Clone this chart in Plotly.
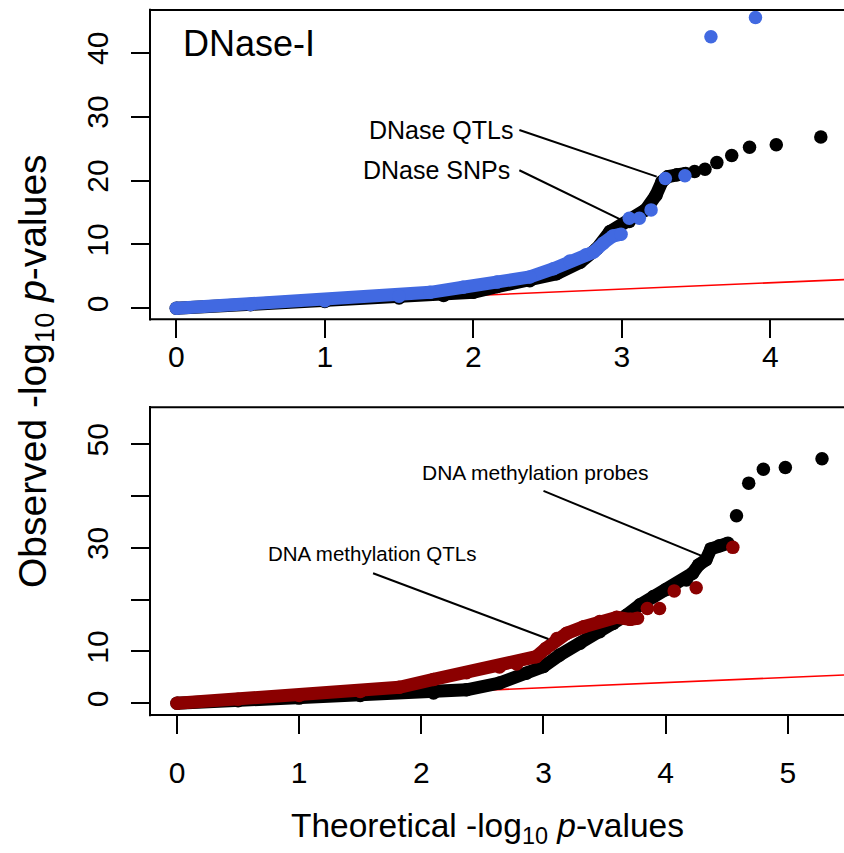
import plotly.graph_objects as go

# ---- DNase-I panel: Q-Q values (theoretical vs observed -log10 p) ----
dnase_snp_band_x = [0.0, 0.5, 1.0, 1.5, 1.8, 2.0, 2.16, 2.38, 2.56, 2.72, 2.83, 2.92,
                    3.05, 3.16, 3.23, 3.27, 3.31, 3.37, 3.43]
dnase_snp_band_y = [0.0, 0.55, 1.05, 1.6, 2.0, 2.5, 3.4, 4.3, 5.4, 7.2, 9.3, 12.0,
                    13.6, 15.4, 17.7, 19.8, 20.6, 20.9, 21.1]
dnase_snp_tail_x = [3.49, 3.56, 3.64, 3.74, 3.86, 4.04, 4.34]
dnase_snp_tail_y = [21.4, 21.75, 22.8, 23.9, 25.2, 25.6, 26.8]

dnase_qtl_band_x = [0.0, 0.5, 1.0, 1.5, 1.71, 1.93, 2.16, 2.38, 2.54, 2.65, 2.76, 2.81,
                    2.876, 2.94, 2.995]
dnase_qtl_band_y = [0.0, 0.6, 1.2, 1.9, 2.5, 3.3, 4.1, 4.9, 6.2, 7.4, 8.4, 8.8,
                    10.2, 11.3, 11.6]
dnase_qtl_tail_x = [3.05, 3.118, 3.197, 3.293, 3.425, 3.6, 3.9]
dnase_qtl_tail_y = [14.1, 14.1, 15.4, 20.3, 20.75, 42.5, 45.5]

# ---- DNA methylation panel ----
meth_probe_band_x = [0.0, 0.5, 1.0, 1.5, 2.1, 2.37, 2.64, 2.86, 3.0, 3.13, 3.3, 3.46,
                     3.57, 3.68, 3.79, 3.9, 4.0, 4.17, 4.22, 4.27, 4.33, 4.37, 4.44, 4.51]
meth_probe_band_y = [0.0, 0.5, 1.0, 1.5, 2.0, 2.6, 3.9, 5.8, 7.1, 9.3, 11.6, 13.8,
                     15.4, 17.0, 19.0, 20.6, 21.9, 23.8, 25.1, 26.7, 27.7, 29.8, 30.4, 30.9]
meth_probe_tail_x = [4.58, 4.68, 4.80, 4.98, 5.28]
meth_probe_tail_y = [36.2, 42.5, 45.2, 45.5, 47.2]

meth_qtl_band_x = [0.0, 0.5, 1.0, 1.5, 1.82, 2.1, 2.37, 2.64, 2.78, 2.94, 3.02, 3.11,
                   3.19, 3.33, 3.46, 3.6, 3.71, 3.77]
meth_qtl_band_y = [0.0, 0.8, 1.5, 2.3, 3.1, 4.6, 5.9, 7.0, 7.6, 9.0, 10.6, 12.5,
                   13.5, 14.8, 15.8, 16.6, 16.2, 16.4]
meth_qtl_tail_x = [3.85, 3.95, 4.07, 4.25, 4.55]
meth_qtl_tail_y = [18.3, 18.3, 21.7, 22.3, 30.1]

top_xticks = [0, 1, 2, 3, 4]
top_yticks = [0, 10, 20, 30, 40]
bot_xticks = [0, 1, 2, 3, 4, 5]
bot_yticks = [0, 10, 20, 30, 40, 50]
bot_yticktext = ["0", "10", "", "30", "", "50"]

top_xrange = [-0.177, 4.496]
top_yrange = [-1.72, 46.68]
bot_xrange = [-0.221, 5.46]
bot_yrange = [-2.26, 57.14]

BLACK = "black"
BLUE = "#4169E1"
DARKRED = "#8B0000"
FONT = "Liberation Sans, Arial, Helvetica, sans-serif"
MS = 13.5

W, H = 844, 853
fig = go.Figure()


def add_series(xa, ya, bx, by, tx, ty, color):
    fig.add_trace(go.Scatter(x=bx, y=by, xaxis=xa, yaxis=ya, mode="lines+markers",
                             line=dict(color=color, width=MS - 0.5),
                             marker=dict(color=color, size=MS),
                             cliponaxis=False, hoverinfo="skip"))
    fig.add_trace(go.Scatter(x=tx, y=ty, xaxis=xa, yaxis=ya, mode="markers",
                             marker=dict(color=color, size=MS),
                             cliponaxis=False, hoverinfo="skip"))


# identity reference line (y = x) from the origin, under the points
fig.add_trace(go.Scatter(x=[0, top_xrange[1]], y=[0, top_xrange[1]], xaxis="x", yaxis="y",
                         mode="lines", line=dict(color="red", width=1.6), hoverinfo="skip"))
fig.add_trace(go.Scatter(x=[0, bot_xrange[1]], y=[0, bot_xrange[1]], xaxis="x2", yaxis="y2",
                         mode="lines", line=dict(color="red", width=1.6), hoverinfo="skip"))

add_series("x", "y", dnase_snp_band_x, dnase_snp_band_y, dnase_snp_tail_x, dnase_snp_tail_y, BLACK)
add_series("x", "y", dnase_qtl_band_x, dnase_qtl_band_y, dnase_qtl_tail_x, dnase_qtl_tail_y, BLUE)
add_series("x2", "y2", meth_probe_band_x, meth_probe_band_y, meth_probe_tail_x, meth_probe_tail_y, BLACK)
add_series("x2", "y2", meth_qtl_band_x, meth_qtl_band_y, meth_qtl_tail_x, meth_qtl_tail_y, DARKRED)

tick_common = dict(ticks="outside", ticklen=18, tickwidth=2, tickcolor="black",
                   showgrid=False, zeroline=False, showline=False,
                   tickfont=dict(family=FONT, size=30, color="black"), fixedrange=True)

fig.update_layout(
    width=W, height=H, margin=dict(l=0, r=0, t=0, b=0),
    template="none", showlegend=False,
    paper_bgcolor="white", plot_bgcolor="white",
    font=dict(family=FONT, color="black"),
    xaxis=dict(domain=[150 / W, 1], range=top_xrange, anchor="y",
               tickvals=top_xticks, ticklabelstandoff=-7, **tick_common),
    yaxis=dict(domain=[1 - 319.3 / H, 1 - 10 / H], range=top_yrange, anchor="x",
               tickvals=top_yticks, tickangle=-90, ticklabelstandoff=11, **tick_common),
    xaxis2=dict(domain=[150 / W, 1], range=bot_xrange, anchor="y2",
                tickvals=bot_xticks, ticklabelstandoff=13, **tick_common),
    yaxis2=dict(domain=[1 - 715 / H, 1 - 407.3 / H], range=bot_yrange, anchor="x2",
                tickvals=bot_yticks, ticktext=bot_yticktext, tickangle=-90,
                ticklabelstandoff=11, **tick_common),
)

# open box (left, top, bottom) around each panel
shapes = []
for xr, yr in (("x domain", "y domain"), ("x2 domain", "y2 domain")):
    ln = dict(color="black", width=2)
    shapes.append(dict(type="line", xref=xr, yref=yr, x0=0, x1=0, y0=-0.004, y1=1.004, line=ln))
    shapes.append(dict(type="line", xref=xr, yref=yr, x0=0, x1=1.01, y0=1, y1=1, line=ln))
    shapes.append(dict(type="line", xref=xr, yref=yr, x0=0, x1=1.01, y0=0, y1=0, line=ln))

# leader lines from labels to points
leaders = [
    ("x", "y", 2.31, 27.9, 3.235, 20.6),
    ("x", "y", 2.31, 21.6, 3.0, 13.8),
    ("x2", "y2", 3.0, 41.0, 4.31, 28.3),
    ("x2", "y2", 1.605, 25.1, 3.04, 12.4),
]
for xr, yr, x0, y0, x1, y1 in leaders:
    shapes.append(dict(type="line", xref=xr, yref=yr, x0=x0, y0=y0, x1=x1, y1=y1,
                       line=dict(color="black", width=2)))
fig.update_layout(shapes=shapes)

ann = [
    dict(xref="x", yref="y", x=0.03, y=41.4, text="DNase-I", xanchor="left",
         yanchor="middle", font=dict(size=36)),
    dict(xref="x", yref="y", x=2.28, y=27.9, text="DNase QTLs", xanchor="right",
         yanchor="middle", font=dict(size=25)),
    dict(xref="x", yref="y", x=2.26, y=21.6, text="DNase SNPs", xanchor="right",
         yanchor="middle", font=dict(size=25)),
    dict(xref="x2", yref="y2", x=2.93, y=44.5, text="DNA methylation probes",
         xanchor="center", yanchor="middle", font=dict(size=21)),
    dict(xref="x2", yref="y2", x=1.60, y=29.0, text="DNA methylation QTLs",
         xanchor="center", yanchor="middle", font=dict(size=20.5)),
    dict(xref="paper", yref="paper", x=487 / W, y=1 - 828 / H,
         text="Theoretical -log<sub>10</sub> <i>p</i>-values", xanchor="center",
         yanchor="middle", font=dict(size=33.5)),
    dict(xref="paper", yref="paper", x=35 / W, y=1 - 371 / H,
         text="Observed -log<sub>10</sub> <i>p</i>-values", textangle=-90,
         xanchor="center", yanchor="middle", font=dict(size=39)),
]
for a in ann:
    a.setdefault("showarrow", False)
    a["font"] = dict(family=FONT, color="black", size=a["font"]["size"])
fig.update_layout(annotations=ann)

fig.write_html("out.html")
